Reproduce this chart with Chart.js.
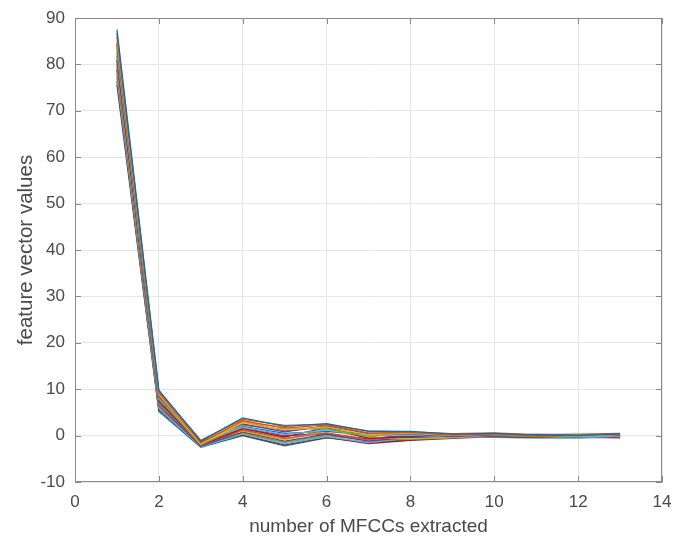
<!DOCTYPE html>
<html>
<head>
<meta charset="utf-8">
<script src="https://cdn.jsdelivr.net/npm/chart.js@4/dist/chart.umd.min.js"></script>
<style>
  html, body { margin: 0; padding: 0; background: #fff; }
  #wrap { width: 674px; height: 545px; }
</style>
</head>
<body>
<div id="wrap"><canvas id="mfcc-chart" width="674" height="545"></canvas></div>
<script>
// ── DATA ───────────────────────────────────────────────────────
const mfccIndex = [1, 2, 3, 4, 5, 6, 7, 8, 9, 10, 11, 12, 13];
const xTicks = [0, 2, 4, 6, 8, 10, 12, 14];
const yTicks = [-10, 0, 10, 20, 30, 40, 50, 60, 70, 80, 90];

// one feature vector per frame (13 MFCCs each)
const frame01 = [87.5, 9.8, -1.2, 3.8, 2.0, 2.6, 0.9, 0.9, 0.3, 0.5, 0.1, 0.0, 0.4];
const frame02 = [86.0, 9.2, -1.5, 3.2, 1.6, 2.3, 0.6, 0.7, 0.1, 0.4, -0.1, 0.1, 0.3];
const frame03 = [85.0, 8.8, -1.8, 2.8, 1.2, 1.9, 0.2, 0.5, 0.0, 0.3, 0.0, -0.1, 0.2];
const frame04 = [84.2, 8.5, -1.4, 2.5, 0.8, 2.1, 0.4, 0.3, -0.2, 0.2, 0.2, 0.0, 0.1];
const frame05 = [83.5, 8.1, -2.0, 2.2, 1.4, 1.5, -0.2, 0.6, 0.2, 0.0, -0.2, 0.2, 0.0];
const frame06 = [82.6, 7.9, -1.6, 1.8, 0.2, 1.2, 0.0, 0.1, -0.3, 0.1, 0.1, -0.2, -0.1];
const frame07 = [81.8, 7.6, -2.1, 1.5, -0.3, 1.7, -0.6, -0.2, 0.1, -0.1, -0.3, 0.0, -0.2];
const frame08 = [81.0, 7.3, -1.9, 2.0, 0.5, 0.9, 0.3, -0.4, -0.1, 0.3, 0.0, -0.3, 0.2];
const frame09 = [80.2, 7.0, -2.2, 1.2, -0.6, 0.6, -0.9, 0.0, 0.3, 0.2, -0.1, 0.1, -0.3];
const frame10 = [79.5, 6.8, -1.7, 1.0, -0.9, 1.0, -0.4, -0.6, -0.4, 0.0, 0.2, -0.1, 0.1];
const frame11 = [78.8, 6.5, -2.3, 0.8, -1.2, 0.3, -1.2, -0.3, 0.0, -0.2, -0.2, 0.2, -0.4];
const frame12 = [78.0, 6.2, -2.0, 0.5, -1.5, 0.0, -1.0, -0.8, -0.5, 0.1, -0.4, -0.2, 0.0];
const frame13 = [77.2, 5.9, -2.4, 0.3, -1.8, -0.2, -1.5, -0.5, -0.2, -0.3, -0.1, -0.4, -0.2];
const frame14 = [76.4, 5.6, -2.1, 0.1, -2.0, -0.4, -1.7, -1.0, -0.6, -0.2, -0.3, -0.3, -0.5];
const frame15 = [75.6, 5.2, -2.5, 0.0, -2.2, -0.5, -1.4, -0.9, -0.3, -0.4, -0.5, -0.5, -0.3];
const frame16 = [86.8, 9.5, -1.0, 3.5, 2.2, 2.4, 1.0, 0.8, 0.4, 0.6, 0.2, 0.3, 0.5];
const frame17 = [83.0, 8.0, -1.3, 2.9, 1.8, 1.4, 0.5, 0.4, 0.0, 0.2, 0.1, 0.0, 0.2];
const frame18 = [79.0, 6.9, -1.9, 1.6, 0.0, 0.4, -0.7, 0.2, -0.2, 0.4, -0.2, -0.1, -0.1];
const frame19 = [80.8, 7.4, -1.7, 0.6, -0.8, 1.3, 0.1, -0.1, 0.2, -0.1, 0.3, 0.1, 0.0];
const frame20 = [77.6, 6.0, -2.2, 0.4, -1.4, 0.2, -0.8, -0.7, -0.4, 0.0, -0.1, -0.3, -0.2];
const frame21 = [84.6, 8.6, -1.6, 3.0, 1.0, 2.0, -0.1, 0.6, -0.1, 0.1, 0.0, 0.1, 0.3];

const frames = [frame01, frame02, frame03, frame04, frame05, frame06, frame07,
  frame08, frame09, frame10, frame11, frame12, frame13, frame14, frame15,
  frame16, frame17, frame18, frame19, frame20, frame21];

// matlab default line colour order
const colorOrder = ['#0072BD', '#D95319', '#EDB120', '#7E2F8E', '#77AC30', '#4DBEEE', '#A2142F'];

// ── STYLE ──────────────────────────────────────────────────────
const boxColor = '#8a8a8a';
const gridColor = '#e6e6e6';
const textColor = '#4a4a4a';
const fontFamily = '"Liberation Sans", Arial, sans-serif';

// closed box + inward ticks like matlab axes
const boxPlugin = {
  id: 'matlabBox',
  afterDraw(chart) {
    const { ctx, chartArea: a, scales } = chart;
    ctx.save();
    ctx.strokeStyle = boxColor;
    ctx.lineWidth = 1;
    ctx.strokeRect(a.left + 0.5, a.top + 0.5, a.right - a.left - 1, a.bottom - a.top - 1);
    ctx.beginPath();
    const len = 6;
    xTicks.forEach(v => {
      const px = Math.round(scales.x.getPixelForValue(v)) + 0.5;
      ctx.moveTo(px, a.bottom); ctx.lineTo(px, a.bottom - len);
      ctx.moveTo(px, a.top); ctx.lineTo(px, a.top + len);
    });
    yTicks.forEach(v => {
      const py = Math.round(scales.y.getPixelForValue(v)) + 0.5;
      ctx.moveTo(a.left, py); ctx.lineTo(a.left + len, py);
      ctx.moveTo(a.right, py); ctx.lineTo(a.right - len, py);
    });
    ctx.stroke();
    ctx.restore();
  }
};

const datasets = frames.map((f, i) => ({
  data: mfccIndex.map((x, j) => ({ x, y: f[j] })),
  borderColor: colorOrder[i % colorOrder.length],
  borderWidth: 1.3,
  pointRadius: 0,
  tension: 0,
  fill: false,
}));

new Chart(document.getElementById('mfcc-chart'), {
  type: 'line',
  data: { datasets },
  plugins: [boxPlugin],
  options: {
    responsive: false,
    animation: false,
    layout: { padding: { left: 0, top: 18, right: 12, bottom: 0 } },
    plugins: { legend: { display: false }, tooltip: { enabled: false } },
    scales: {
      x: {
        type: 'linear',
        min: 0, max: 14,
        afterBuildTicks: s => { s.ticks = xTicks.map(v => ({ value: v })); },
        afterFit: s => { s.height = 63; s.paddingLeft = 0; s.paddingRight = 0; },
        grid: { color: gridColor, drawTicks: false },
        border: { display: false },
        ticks: { color: textColor, padding: 10, maxRotation: 0, font: { family: fontFamily, size: 17 } },
        title: {
          display: true,
          text: 'number of MFCCs extracted',
          color: textColor,
          font: { family: fontFamily, size: 19 },
          padding: { top: 0, bottom: 7 }
        }
      },
      y: {
        type: 'linear',
        min: -10, max: 90,
        afterBuildTicks: s => { s.ticks = yTicks.map(v => ({ value: v })); },
        afterFit: s => { s.width = 75; s.paddingTop = 0; s.paddingBottom = 0; },
        grid: { color: gridColor, drawTicks: false },
        border: { display: false },
        ticks: { color: textColor, padding: 10, font: { family: fontFamily, size: 17 } },
        title: {
          display: true,
          text: 'feature vector values',
          color: textColor,
          font: { family: fontFamily, size: 20.5 },
          padding: { top: 14, bottom: 0 }
        }
      }
    }
  }
});
</script>
</body>
</html>
